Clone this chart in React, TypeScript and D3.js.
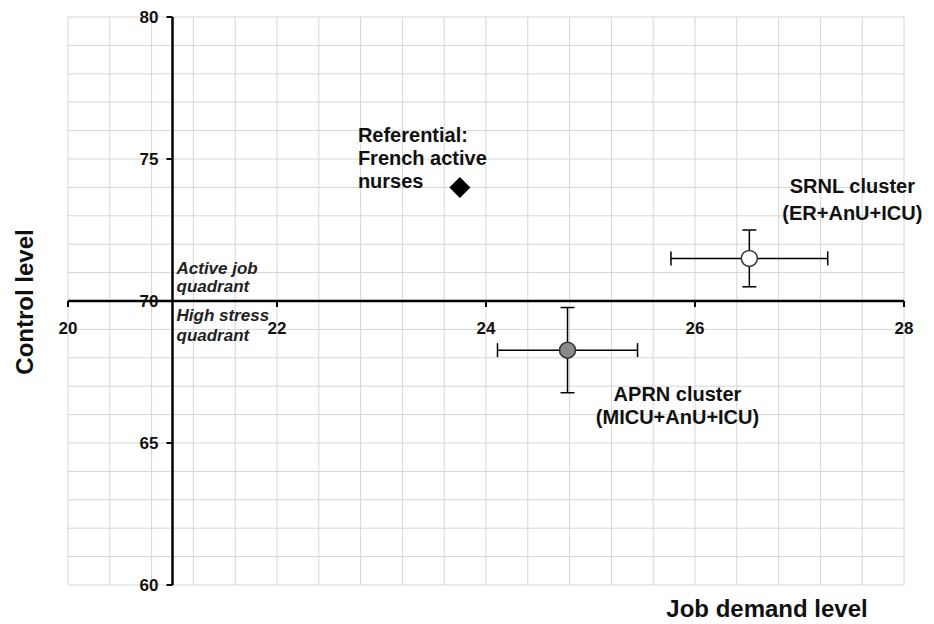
import React from 'react';
import * as d3 from 'd3';

// groups and their mean (± SD) scores
const groups = ['Referential', 'SRNL', 'APRN'];
const demand = [23.75, 26.52, 24.78];
const control = [74.0, 71.5, 68.27];
const demandErr = [0, 0.75, 0.67];
const controlErr = [0, 1.0, 1.5];
const groupLabels = [
  ['Referential:', 'French active', 'nurses'],
  ['SRNL cluster', '(ER+AnU+ICU)'],
  ['APRN cluster', '(MICU+AnU+ICU)'],
];

const xTicks = [20, 22, 24, 26, 28];
const yTicks = [60, 65, 70, 75, 80];
const xGridStep = 0.4;
const yGridStep = 1;

const width = 934;
const height = 624;
const font = "'Liberation Sans', Arial, sans-serif";

export default function App() {
  const x = d3.scaleLinear().domain([20, 28]).range([68, 904]);
  const y = d3.scaleLinear().domain([60, 80]).range([585, 17]);

  const xGrid = d3.range(20, 28 + 1e-6, xGridStep);
  const yGrid = d3.range(60, 80 + 1e-6, yGridStep);

  const axisX = x(21); // y axis crosses at demand = 21
  const axisY = y(70); // x axis crosses at control = 70

  // label anchors (offset from the marker)
  const labelPos = [
    { dx: -102, dy: -45, anchor: 'start', lh: 23 },
    { dx: 103, dy: -65, anchor: 'middle', lh: 27 },
    { dx: 110, dy: 51, anchor: 'middle', lh: 23 },
  ];

  return (
    <svg
      width={width}
      height={height}
      style={{ position: 'absolute', left: 0, top: 0, background: '#fff' }}
      fontFamily={font}
    >
      {/* grid */}
      <g stroke="#d6d6d6" strokeWidth={1}>
        {xGrid.map((v, i) => (
          <line key={'gx' + i} x1={x(v)} x2={x(v)} y1={y(80)} y2={y(60)} />
        ))}
        {yGrid.map((v, i) => (
          <line key={'gy' + i} x1={x(20)} x2={x(28)} y1={y(v)} y2={y(v)} />
        ))}
      </g>

      {/* x axis */}
      <line x1={x(20)} x2={x(28)} y1={axisY} y2={axisY} stroke="#000" strokeWidth={2.5} />
      {xTicks.map((t) => (
        <g key={'xt' + t}>
          <line x1={x(t)} x2={x(t)} y1={axisY} y2={axisY + 6} stroke="#000" strokeWidth={2} />
          <text x={x(t)} y={axisY + 33} textAnchor="middle" fontSize={17} fontWeight="bold" fill="#111">
            {t}
          </text>
        </g>
      ))}

      {/* y axis */}
      <line x1={axisX} x2={axisX} y1={y(80)} y2={y(60)} stroke="#000" strokeWidth={2.5} />
      {yTicks.map((t) => (
        <g key={'yt' + t}>
          <line x1={axisX - 6} x2={axisX} y1={y(t)} y2={y(t)} stroke="#000" strokeWidth={2} />
          <text x={axisX - 14} y={y(t) + 6} textAnchor="end" fontSize={17} fontWeight="bold" fill="#111">
            {t}
          </text>
        </g>
      ))}

      {/* quadrant notes */}
      <g fontSize={17} fontWeight="bold" fontStyle="italic" fill="#222">
        <text x={axisX + 4} y={axisY - 27}>Active job</text>
        <text x={axisX + 4} y={axisY - 9}>quadrant</text>
        <text x={axisX + 4} y={axisY + 20}>High stress</text>
        <text x={axisX + 4} y={axisY + 40}>quadrant</text>
      </g>

      {/* error bars */}
      <g stroke="#000" strokeWidth={1.5}>
        {groups.map((g, i) =>
          demandErr[i] > 0 ? (
            <g key={'eb' + g}>
              <line x1={x(demand[i] - demandErr[i])} x2={x(demand[i] + demandErr[i])} y1={y(control[i])} y2={y(control[i])} />
              <line x1={x(demand[i] - demandErr[i])} x2={x(demand[i] - demandErr[i])} y1={y(control[i]) - 7} y2={y(control[i]) + 7} />
              <line x1={x(demand[i] + demandErr[i])} x2={x(demand[i] + demandErr[i])} y1={y(control[i]) - 7} y2={y(control[i]) + 7} />
              <line x1={x(demand[i])} x2={x(demand[i])} y1={y(control[i] - controlErr[i])} y2={y(control[i] + controlErr[i])} />
              <line x1={x(demand[i]) - 7} x2={x(demand[i]) + 7} y1={y(control[i] + controlErr[i])} y2={y(control[i] + controlErr[i])} />
              <line x1={x(demand[i]) - 7} x2={x(demand[i]) + 7} y1={y(control[i] - controlErr[i])} y2={y(control[i] - controlErr[i])} />
            </g>
          ) : null
        )}
      </g>

      {/* markers */}
      <path
        d={d3.symbol(d3.symbolSquare, 220)() as string}
        transform={`translate(${x(demand[0])},${y(control[0])}) rotate(45)`}
        fill="#000"
      />
      <circle cx={x(demand[1])} cy={y(control[1])} r={8} fill="#fff" stroke="#333" strokeWidth={1.5} />
      <circle cx={x(demand[2])} cy={y(control[2])} r={8} fill="#8a8a8a" stroke="#333" strokeWidth={1.5} />

      {/* group labels */}
      <g fontSize={20} fontWeight="bold" fill="#111">
        {groups.map((g, i) => (
          <text key={'lab' + g} textAnchor={labelPos[i].anchor}>
            {groupLabels[i].map((line, j) => (
              <tspan key={j} x={x(demand[i]) + labelPos[i].dx} y={y(control[i]) + labelPos[i].dy + j * labelPos[i].lh}>
                {line}
              </tspan>
            ))}
          </text>
        ))}
      </g>

      {/* axis titles */}
      <text x={767} y={617} textAnchor="middle" fontSize={24} fontWeight="bold" fill="#111">
        Job demand level
      </text>
      <text
        transform={`translate(33,302) rotate(-90)`}
        textAnchor="middle"
        fontSize={24}
        fontWeight="bold"
        fill="#111"
      >
        Control level
      </text>
    </svg>
  );
}
